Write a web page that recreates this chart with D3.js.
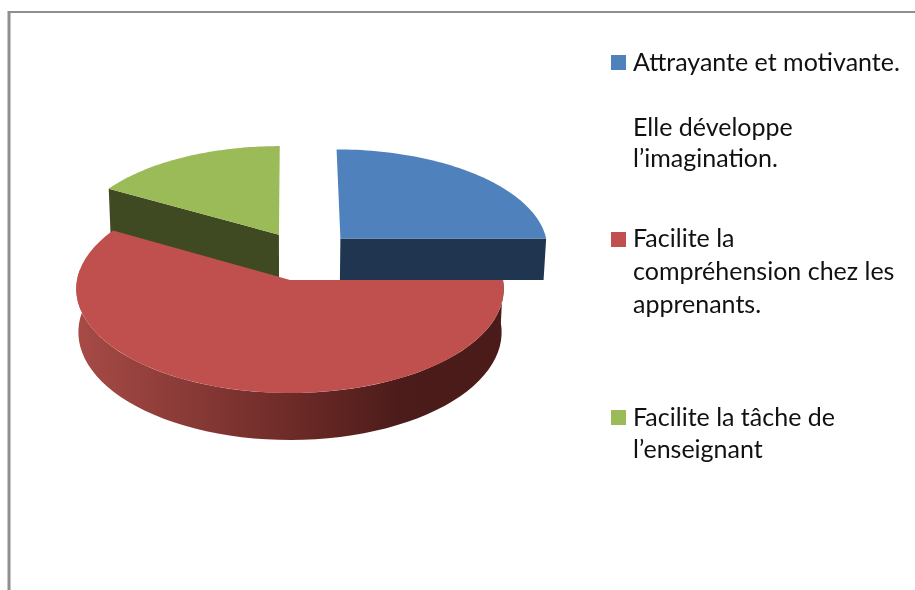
<!DOCTYPE html>
<html>
<head>
<meta charset="utf-8">
<script src="https://cdn.jsdelivr.net/npm/d3@7"></script>
<style>
  html, body { margin: 0; padding: 0; background: #fff; }
  svg { display: block; filter: blur(0.5px); }
  text { font-family: Lato, "Open Sans", sans-serif; fill: #111; }
</style>
</head>
<body>
<div id="chart"></div>
<script>
// data (share of 12 answers)
var categories = ["Attrayante et motivante.", "Elle développe l’imagination.", "Facilite la compréhension chez les apprenants.", "Facilite la tâche de l’enseignant"];
var values = [3, 0, 7, 2];
var legendLines = [
  ["Attrayante et motivante."],
  ["Elle développe", "l’imagination."],
  ["Facilite la", "compréhension chez les", "apprenants."],
  ["Facilite la tâche de", "l’enseignant"]
];

// styles
var topColors = ["#4f81bd", "#8064a2", "#c0504d", "#9bbb59"];
var sideColors = ["#1f3550", "#3d2f50", "#6e2b28", "#404a22"];

var width = 915, height = 590;

// fake 3d projection of the pie
var cx = 290, cy = 280, rx = 213, ry = 103.4, persp = 0.085, depth = 43;
var explode = [[0.245, 0.415], [0, 0], [0, 0], [-0.054, 0.455]];

var xScale = d3.scaleLinear().domain([-1, 1]).range([cx - rx, cx + rx]);
var yScale = d3.scaleLinear().domain([-1, 1]).range([cy + ry, cy - ry]);

function project(u, v, z) {
  var s = 1 / (1 + persp * v);
  var shrink = z ? 0.99 : 1;
  return [cx + (xScale(u * s) - cx) * shrink, yScale(v * s) + z * s * depth];
}

var line = d3.line();
var svg = d3.select("#chart").append("svg")
    .attr("width", width)
    .attr("height", height);

var defs = svg.append("defs");
var grad = defs.append("linearGradient")
    .attr("id", "redSide")
    .attr("gradientUnits", "userSpaceOnUse")
    .attr("x1", 80).attr("x2", 500).attr("y1", 0).attr("y2", 0);
grad.append("stop").attr("offset", "0").attr("stop-color", "#a64a46");
grad.append("stop").attr("offset", "0.5").attr("stop-color", "#6e2b28");
grad.append("stop").attr("offset", "0.76").attr("stop-color", "#4c1c1a");
grad.append("stop").attr("offset", "1").attr("stop-color", "#4a1b19");

var frame = svg.append("g").attr("stroke", "#8f8f8f");
frame.append("line").attr("x1", 8).attr("x2", width + 2).attr("y1", 12).attr("y2", 12).attr("stroke-width", 2);
frame.append("line").attr("x1", 9).attr("x2", 9).attr("y1", 11).attr("y2", height + 2).attr("stroke-width", 3);

var arcs = d3.pie().sort(null)(values);

function rimPoints(d, i, z, a0, a1) {
  var e = explode[i];
  return d3.range(0, 61).map(function(k) {
    var a = a0 + (a1 - a0) * k / 60;
    return project(Math.sin(a) + e[0], Math.cos(a) + e[1], z);
  });
}

function apex(i, z) {
  return project(explode[i][0], explode[i][1], z);
}

// cut face of a slice, at angle a, z is how far down it runs
function cutFace(i, a, z) {
  var e = explode[i];
  var outer = [Math.sin(a) + e[0], Math.cos(a) + e[1]];
  return [apex(i, 0), project(outer[0], outer[1], 0), project(outer[0], outer[1], z), apex(i, z)];
}

var pieG = svg.append("g");

// blue and green cut faces go under the red top
pieG.append("path").attr("d", line(cutFace(3, arcs[3].startAngle, 1.15)) + "Z").attr("fill", sideColors[3]);
pieG.append("path").attr("d", line(cutFace(0, arcs[0].endAngle, 1)) + "Z").attr("fill", sideColors[0]);

// red wall, the front part only
var redWall = rimPoints(arcs[2], 2, 0, arcs[2].startAngle, 3 * Math.PI / 2 + 0.1)
  .concat(rimPoints(arcs[2], 2, 1, arcs[2].startAngle, 3 * Math.PI / 2 + 0.1).reverse());
pieG.append("path").attr("d", line(redWall) + "Z").attr("fill", "url(#redSide)");

// top faces
arcs.forEach(function(d, i) {
  if (d.value == 0) return;
  var pts = [apex(i, 0)].concat(rimPoints(d, i, 0, d.startAngle, d.endAngle));
  pieG.append("path")
      .attr("class", "slice")
      .attr("d", line(pts) + "Z")
      .attr("fill", topColors[i]);
});

// legend
var swatchY = [55, null, 232, 410];
var firstBaseline = [71, 136, 247, 426];
var lineStep = [32, 31, 33, 32];
var legend = svg.append("g");
legendLines.forEach(function(lines, i) {
  if (values[i] > 0) {
    legend.append("rect")
        .attr("x", 611).attr("y", swatchY[i])
        .attr("width", 15).attr("height", 15)
        .attr("fill", topColors[i]);
  }
  legend.selectAll("text.row" + i)
      .data(lines)
    .enter().append("text")
      .attr("class", "row" + i)
      .attr("x", 633)
      .attr("y", function(d, j) { return firstBaseline[i] + j * lineStep[i]; })
      .style("font-size", "25px")
      .text(function(d) { return d; });
});
</script>
</body>
</html>
